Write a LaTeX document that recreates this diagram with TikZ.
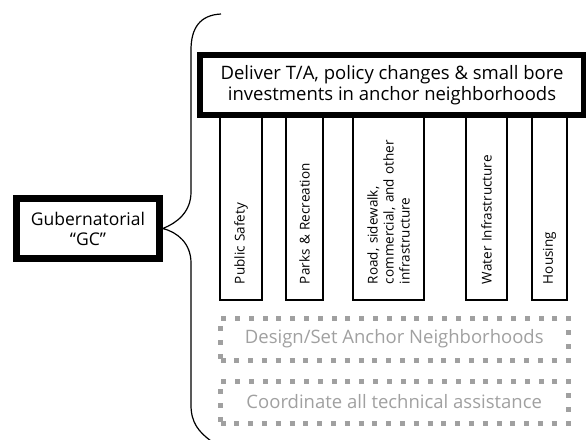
\documentclass[tikz,border=0pt]{standalone}
\usepackage{fontspec}
\setmainfont{Open Sans}
\usetikzlibrary{positioning, calc}
\definecolor{dotgray}{RGB}{160, 160, 160}
\definecolor{labelgray}{RGB}{160, 160, 160}

\begin{document}
\begin{tikzpicture}[
  x=1pt, y=-1pt,
  gc/.style={rectangle, draw, line width=6.5pt, fill=white,
             minimum width=143pt, minimum height=60pt, align=center,
             font=\fontsize{17.5}{20}\selectfont},
  deliver/.style={rectangle, draw, line width=6pt, fill=white,
                  minimum width=384pt, minimum height=60pt, align=center,
                  font=\fontsize{18.5}{20.5}\selectfont},
  area/.style={rectangle, draw, line width=1.2pt, fill=white, rotate=90,
               minimum width=185pt, inner xsep=16pt, text width=153pt,
               align=left, font=\fontsize{13.5}{16}\selectfont},
  support/.style={rectangle, draw=dotgray, line width=5pt,
                  dash pattern=on 5pt off 8.8pt, minimum width=347.5pt,
                  minimum height=42pt, text=labelgray,
                  font=\fontsize{18.5}{20}\selectfont},
  brace/.style={line width=1.2pt}
]
  \useasboundingbox (0,0) rectangle (586,439);

  \node[gc] (gc) at (88,228.5) {Gubernatorial\\“GC”};

  % the five areas hang under the delivery box
  \node[area, minimum height=42pt] (safety) at (241,207.5) {Public Safety};
  \node[area, minimum height=37pt] (parks) at (304.5,207.5) {Parks \& Recreation};
  \node[area, minimum height=71pt] (road) at (388.5,207.5) {Road, sidewalk,\\commercial, and other\\infrastructure};
  \node[area, minimum height=41pt] (water) at (486.5,207.5) {Water Infrastructure};
  \node[area, minimum height=35pt] (housing) at (549.5,207.5) {Housing};

  \node[deliver] (deliver) at (392,85) {Deliver T/A, policy changes \& small bore\\investments in anchor neighborhoods};

  \node[support] (design) at (394.25,339) {Design/Set Anchor Neighborhoods};
  \node[support, below=16pt of design] (coord) {Coordinate all technical assistance};

  \coordinate (bracetop) at (221,14);
  \coordinate (bracebot) at (211,441);
  \draw[brace] (bracetop) .. controls (200,15) and (191,28) .. (191,50)
    -- (191,192) .. controls (191,212) and (177,223) .. (gc.east)
    .. controls (177,232) and (191,243) .. (191,263)
    -- (191,405) .. controls (191,423) and (199,432) .. (bracebot);
\end{tikzpicture}
\end{document}
